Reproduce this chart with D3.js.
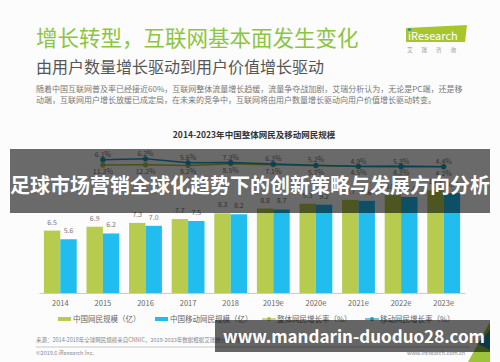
<!DOCTYPE html>
<html>
<head>
<meta charset="utf-8">
<script src="https://cdn.jsdelivr.net/npm/d3@7/dist/d3.min.js"></script>
<style>
  html, body { margin: 0; padding: 0; background: #fff; }
  svg text { font-family: "Noto Sans CJK SC", "Noto Sans", sans-serif; }
</style>
</head>
<body>
<div id="chart"></div>
<script>
// data
var years = ["2014", "2015", "2016", "2017", "2018", "2019e", "2020e", "2021e", "2022e", "2023e"];
var netizens = [6.5, 6.9, 7.3, 7.7, 8.3, 8.8, 9.3, 9.7, 10.2, 10.7];
var mobileNetizens = [5.6, 6.2, 7.0, 7.5, 8.2, 8.7, 9.2, 9.6, 10.0, 10.4];
var growthYears = ["2015", "2016", "2017", "2018", "2019e", "2020e", "2021e", "2022e", "2023e"];
var netizenGrowth = [6.1, 6.2, 5.6, 7.3, 6.3, 5.2, 4.9, 5.3, 4.4];
var mobileGrowth = [11.3, 12.2, 8.2, 8.5, 7.1, 5.7, 4.5, 4.3, 4.2];
var legendLabels = ["中国网民规模（亿）", "中国移动网民规模（亿）", "整体网民增长率（%）", "移动网民增长率（%）"];

var W = 500, H = 362;
var green = "#b7cc4e", blue = "#20bdee", teal = "#1c9cc0", olive = "#a9bd3f";

var svg = d3.select("#chart").append("svg")
    .attr("width", W)
    .attr("height", H);

svg.append("rect").attr("width", W).attr("height", H).attr("fill", "#fcfcfc");

// header
svg.append("text")
    .attr("x", 36).attr("y", 46)
    .attr("font-size", 21.5)
    .attr("fill", "#8cc540")
    .text("增长转型，互联网基本面发生变化");

svg.append("text")
    .attr("x", 36).attr("y", 73)
    .attr("font-size", 16)
    .attr("fill", "#555")
    .text("由用户数量增长驱动到用户价值增长驱动");

svg.append("text")
    .attr("x", 36).attr("y", 92)
    .attr("font-size", 8)
    .attr("fill", "#777")
    .text("随着中国互联网普及率已经接近60%，互联网整体流量增长趋缓，流量争夺战加剧，艾瑞分析认为，无论是PC端，还是移");
svg.append("text")
    .attr("x", 36).attr("y", 103)
    .attr("font-size", 8)
    .attr("fill", "#777")
    .text("动端，互联网用户增长放缓已成定局，在未来的竞争中，互联网将由用户数量增长驱动向用户价值增长驱动转变。");

// logo
svg.append("path")
    .attr("d", "M406,28 L467,25 L465,42 L406,42 Z")
    .attr("fill", "#a8c62c");
svg.append("text")
    .attr("x", 408).attr("y", 39.5)
    .attr("font-size", 11)
    .attr("fill", "#fff")
    .text("iResearch");
svg.append("circle").attr("cx", 409.5).attr("cy", 29.5).attr("r", 1.6).attr("fill", "#1c8fc9");
svg.append("text")
    .attr("x", 436).attr("y", 52)
    .attr("text-anchor", "middle")
    .attr("font-size", 5.5)
    .attr("fill", "#999")
    .attr("letter-spacing", 9)
    .text("艾瑞咨询");

// chart title
svg.append("text")
    .attr("x", 254).attr("y", 138)
    .attr("text-anchor", "middle")
    .attr("font-size", 8.5)
    .attr("font-weight", "bold")
    .attr("fill", "#333")
    .text("2014-2023年中国整体网民及移动网民规模");

// scales
var x = d3.scaleBand()
    .domain(years)
    .range([39, 465])
    .paddingInner(0.23)
    .paddingOuter(0.115);

var xSub = d3.scaleBand()
    .domain(["net", "mobile"])
    .range([0, x.bandwidth()]);

var y = d3.scaleLinear()
    .domain([0, 11])
    .range([293, 187.4]);

var yRate = d3.scaleLinear()
    .domain([0, 14])
    .range([171, 157]);

var series = [
  {key: "net", values: netizens, color: green},
  {key: "mobile", values: mobileNetizens, color: blue}
];

var groups = svg.selectAll("g.series")
    .data(series)
  .enter().append("g")
    .attr("class", "series");

groups.selectAll("rect")
    .data(function(s) { return s.values.map(function(v, i) { return {key: s.key, v: v, year: years[i], color: s.color}; }); })
  .enter().append("rect")
    .attr("x", function(d) { return x(d.year) + xSub(d.key); })
    .attr("y", function(d) { return y(d.v); })
    .attr("width", xSub.bandwidth())
    .attr("height", function(d) { return y(0) - y(d.v); })
    .attr("fill", function(d) { return d.color; });

groups.selectAll("text")
    .data(function(s) { return s.values.map(function(v, i) { return {key: s.key, v: v, year: years[i]}; }); })
  .enter().append("text")
    .attr("x", function(d) { return x(d.year) + xSub(d.key) + xSub.bandwidth() / 2; })
    .attr("y", function(d) { return y(d.v) - 6; })
    .attr("text-anchor", "middle")
    .attr("font-size", 7)
    .attr("fill", "#777")
    .text(function(d) { return d.v.toFixed(1); });

// x axis
var xAxis = svg.append("g")
    .attr("transform", "translate(0," + y(0) + ")")
    .call(d3.axisBottom(x).tickSize(0).tickSizeOuter(0).tickPadding(8));
xAxis.select(".domain").attr("stroke", "#ccc").attr("stroke-width", 1.2);
xAxis.selectAll("text")
    .attr("font-size", 7.5)
    .attr("fill", "#666")
    .style("font-family", "'Noto Sans CJK SC', sans-serif");

// growth lines
var cx = function(yr) { return x(yr) + x.bandwidth() / 2; };

var lineNet = d3.line()
    .x(function(d, i) { return cx(growthYears[i]); })
    .y(function(d) { return yRate(d); });

svg.append("path")
    .datum(netizenGrowth)
    .attr("d", lineNet)
    .attr("fill", "none")
    .attr("stroke", olive)
    .attr("stroke-width", 1.5);
svg.append("path")
    .datum(mobileGrowth)
    .attr("d", lineNet)
    .attr("fill", "none")
    .attr("stroke", teal)
    .attr("stroke-width", 1.5);

svg.selectAll("circle.net")
    .data(netizenGrowth)
  .enter().append("circle")
    .attr("class", "net")
    .attr("cx", function(d, i) { return cx(growthYears[i]); })
    .attr("cy", function(d) { return yRate(d); })
    .attr("r", 2.6)
    .attr("fill", olive);
svg.selectAll("circle.mob")
    .data(mobileGrowth)
  .enter().append("circle")
    .attr("class", "mob")
    .attr("cx", function(d, i) { return cx(growthYears[i]); })
    .attr("cy", function(d) { return yRate(d); })
    .attr("r", 2.6)
    .attr("fill", teal);

// rate labels as laid out on the slide
svg.selectAll("text.rateTop")
    .data(netizenGrowth)
  .enter().append("text")
    .attr("class", "rateTop")
    .attr("x", function(d, i) { return cx(growthYears[i]); })
    .attr("y", function(d, i) { return yRate(mobileGrowth[i]) - 3; })
    .attr("text-anchor", "middle")
    .attr("font-size", 7)
    .attr("fill", "#777")
    .text(function(d) { return d.toFixed(1) + "%"; });
svg.selectAll("text.rateBot")
    .data(mobileGrowth)
  .enter().append("text")
    .attr("class", "rateBot")
    .attr("x", function(d, i) { return cx(growthYears[i]); })
    .attr("y", function(d, i) { return yRate(netizenGrowth[i]) + 9; })
    .attr("text-anchor", "middle")
    .attr("font-size", 7)
    .attr("fill", "#777")
    .text(function(d) { return d.toFixed(1) + "%"; });

// legend
var legendX = [58, 155, 262, 365];
var legend = svg.selectAll("g.legend")
    .data(legendLabels)
  .enter().append("g")
    .attr("class", "legend")
    .attr("transform", function(d, i) { return "translate(" + legendX[i] + ",319)"; });
legend.each(function(d, i) {
  var g = d3.select(this);
  if (i < 2) {
    g.append("rect").attr("x", 0).attr("y", -2).attr("width", 13).attr("height", 4)
      .attr("fill", i === 0 ? green : blue);
  } else {
    g.append("line").attr("x1", 0).attr("x2", 14).attr("y1", 0).attr("y2", 0)
      .attr("stroke", i === 2 ? olive : teal).attr("stroke-width", 1.2);
    g.append("circle").attr("cx", 7).attr("cy", 0).attr("r", 2).attr("fill", i === 2 ? olive : teal);
  }
  g.append("text").attr("x", 15).attr("y", 2.6)
    .attr("font-size", 7.5).attr("fill", "#666").text(d);
});

// footer
svg.append("text")
    .attr("x", 36).attr("y", 342)
    .attr("font-size", 5.5)
    .attr("fill", "#888")
    .text("来源：2014-2018年全球网民规模来自CNNIC，2019-2023年数据根据艾瑞统计模型核算。");
svg.append("line")
    .attr("x1", 36).attr("x2", 470)
    .attr("y1", 347).attr("y2", 347)
    .attr("stroke", "#bbb").attr("stroke-width", 0.8);
svg.append("text")
    .attr("x", 36).attr("y", 355)
    .attr("font-size", 5.5)
    .attr("fill", "#888")
    .text("©2019.6 iResearch Inc.");
svg.append("text")
    .attr("x", 407).attr("y", 355)
    .attr("font-size", 5.5)
    .attr("fill", "#888")
    .text("www.iresearch.com.cn");

svg.append("path").attr("d", "M490,322 L490,362 L468,362 Z").attr("fill", "#9cc33a");
svg.append("path").attr("d", "M490,330 L490,350 L478,344 Z").attr("fill", "#1e8fb5");

// overlay banners
svg.append("rect")
    .attr("x", 10).attr("y", 149)
    .attr("width", 480).attr("height", 64)
    .attr("fill", "rgba(0,0,0,0.58)");
svg.append("text")
    .attr("x", 250).attr("y", 193)
    .attr("text-anchor", "middle")
    .attr("font-size", 20)
    .attr("font-weight", "bold")
    .attr("fill", "#fff")
    .text("足球市场营销全球化趋势下的创新策略与发展方向分析");

svg.append("rect")
    .attr("x", 215).attr("y", 320)
    .attr("width", 275).attr("height", 32)
    .attr("fill", "rgba(0,0,0,0.6)");
svg.append("text")
    .attr("x", 354).attr("y", 343)
    .attr("text-anchor", "middle")
    .attr("font-size", 17)
    .attr("font-weight", "bold")
    .attr("fill", "#fff")
    .text("www.mandarin-duoduo28.com");
</script>
</body>
</html>
